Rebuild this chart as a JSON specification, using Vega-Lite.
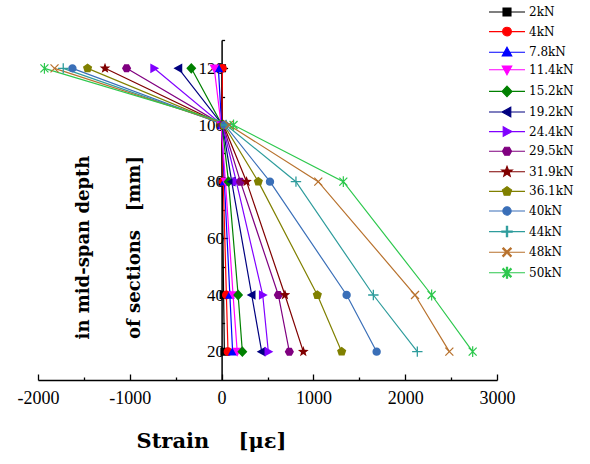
{
  "$schema": "https://vega.github.io/schema/vega-lite/v6.json",
  "width": 459,
  "height": 340,
  "autosize": {"type": "none"},
  "padding": {"left": 38, "top": 40, "right": 93, "bottom": 84},
  "background": "white",
  "config": {"view": {"stroke": null}, "font": "Liberation Serif"},
  "data": {
    "values": [
      {"load": "2kN", "depth": 20, "strain": 30}, {"load": "2kN", "depth": 40, "strain": 22}, {"load": "2kN", "depth": 80, "strain": 8}, {"load": "2kN", "depth": 100, "strain": 0}, {"load": "2kN", "depth": 120, "strain": 5},
      {"load": "4kN", "depth": 20, "strain": 70}, {"load": "4kN", "depth": 40, "strain": 52}, {"load": "4kN", "depth": 80, "strain": 18}, {"load": "4kN", "depth": 100, "strain": 2}, {"load": "4kN", "depth": 120, "strain": 10},
      {"load": "7.8kN", "depth": 20, "strain": 120}, {"load": "7.8kN", "depth": 40, "strain": 90}, {"load": "7.8kN", "depth": 80, "strain": 30}, {"load": "7.8kN", "depth": 100, "strain": 0}, {"load": "7.8kN", "depth": 120, "strain": -35},
      {"load": "11.4kN", "depth": 20, "strain": 170}, {"load": "11.4kN", "depth": 40, "strain": 125}, {"load": "11.4kN", "depth": 80, "strain": 42}, {"load": "11.4kN", "depth": 100, "strain": -5}, {"load": "11.4kN", "depth": 120, "strain": -80},
      {"load": "15.2kN", "depth": 20, "strain": 226}, {"load": "15.2kN", "depth": 40, "strain": 180}, {"load": "15.2kN", "depth": 80, "strain": 75}, {"load": "15.2kN", "depth": 100, "strain": 5}, {"load": "15.2kN", "depth": 120, "strain": -330},
      {"load": "19.2kN", "depth": 20, "strain": 437}, {"load": "19.2kN", "depth": 40, "strain": 328}, {"load": "19.2kN", "depth": 80, "strain": 110}, {"load": "19.2kN", "depth": 100, "strain": 10}, {"load": "19.2kN", "depth": 120, "strain": -470},
      {"load": "24.4kN", "depth": 20, "strain": 509}, {"load": "24.4kN", "depth": 40, "strain": 448}, {"load": "24.4kN", "depth": 80, "strain": 160}, {"load": "24.4kN", "depth": 100, "strain": 10}, {"load": "24.4kN", "depth": 120, "strain": -735},
      {"load": "29.5kN", "depth": 20, "strain": 738}, {"load": "29.5kN", "depth": 40, "strain": 618}, {"load": "29.5kN", "depth": 80, "strain": 205}, {"load": "29.5kN", "depth": 100, "strain": 15}, {"load": "29.5kN", "depth": 120, "strain": -1035},
      {"load": "31.9kN", "depth": 20, "strain": 890}, {"load": "31.9kN", "depth": 40, "strain": 690}, {"load": "31.9kN", "depth": 80, "strain": 272}, {"load": "31.9kN", "depth": 100, "strain": 20}, {"load": "31.9kN", "depth": 120, "strain": -1270},
      {"load": "36.1kN", "depth": 20, "strain": 1308}, {"load": "36.1kN", "depth": 40, "strain": 1043}, {"load": "36.1kN", "depth": 80, "strain": 400}, {"load": "36.1kN", "depth": 100, "strain": 25}, {"load": "36.1kN", "depth": 120, "strain": -1460},
      {"load": "40kN", "depth": 20, "strain": 1689}, {"load": "40kN", "depth": 40, "strain": 1362}, {"load": "40kN", "depth": 80, "strain": 527}, {"load": "40kN", "depth": 100, "strain": 35}, {"load": "40kN", "depth": 120, "strain": -1625},
      {"load": "44kN", "depth": 20, "strain": 2132}, {"load": "44kN", "depth": 40, "strain": 1653}, {"load": "44kN", "depth": 80, "strain": 810}, {"load": "44kN", "depth": 100, "strain": 50}, {"load": "44kN", "depth": 120, "strain": -1725},
      {"load": "48kN", "depth": 20, "strain": 2481}, {"load": "48kN", "depth": 40, "strain": 2107}, {"load": "48kN", "depth": 80, "strain": 1053}, {"load": "48kN", "depth": 100, "strain": 80}, {"load": "48kN", "depth": 120, "strain": -1820},
      {"load": "50kN", "depth": 20, "strain": 2735}, {"load": "50kN", "depth": 40, "strain": 2288}, {"load": "50kN", "depth": 80, "strain": 1326}, {"load": "50kN", "depth": 100, "strain": 130}, {"load": "50kN", "depth": 120, "strain": -1930}
    ]
  },
  "encoding": {
    "x": {
      "field": "strain",
      "type": "quantitative",
      "scale": {"domain": [-2000, 3000], "nice": false, "zero": false},
      "axis": {
        "values": [-2000, -1500, -1000, -500, 0, 500, 1000, 1500, 2000, 2500, 3000],
        "labelExpr": "datum.value % 1000 === 0 ? '' + datum.value : ''",
        "labelFont": "Liberation Serif",
        "labelFontSize": 18,
        "labelColor": "black",
        "labelPadding": 15,
        "labelFlush": false,
        "labelOverlap": false,
        "tickSize": {"condition": {"test": "datum.value % 1000 === 0", "value": -6}, "value": -3},
        "tickColor": "black",
        "tickWidth": 1.3,
        "domainColor": "black",
        "domainWidth": 1.5,
        "grid": false,
        "title": "Strain\u00a0\u00a0\u00a0\u00a0[με]",
        "titleFont": "DejaVu Serif",
        "titleFontWeight": "bold",
        "titleFontSize": 21,
        "titleColor": "black",
        "titleX": 173,
        "titleY": 61,
        "titleAlign": "center",
        "titleBaseline": "middle"
      }
    },
    "y": {
      "field": "depth",
      "type": "quantitative",
      "scale": {"domain": [10, 130], "nice": false, "zero": false},
      "axis": {
        "values": [20, 30, 40, 50, 60, 70, 80, 90, 100, 110, 120, 130],
        "labelExpr": "datum.value % 20 === 0 && datum.value < 130 ? '' + datum.value : ''",
        "offset": -183.6,
        "labelFont": "Liberation Serif",
        "labelFontSize": 17,
        "labelColor": "black",
        "labelPadding": 4,
        "labelOverlap": false,
        "tickSize": {"condition": {"test": "datum.value % 20 === 0", "value": -6}, "value": -3},
        "tickColor": "black",
        "tickWidth": 1.3,
        "domainColor": "black",
        "domainWidth": 1.5,
        "grid": false,
        "title": ["in mid-span depth", "of sections\u00a0\u00a0\u00a0[mm]"],
        "titleFont": "DejaVu Serif",
        "titleFontWeight": "bold",
        "titleFontSize": 18,
        "titleColor": "black",
        "titleAngle": 270,
        "titleLineHeight": 51,
        "titleX": -138,
        "titleY": 207,
        "titleAlign": "center",
        "titleBaseline": "middle"
      }
    },
    "color": {
      "field": "load",
      "type": "nominal",
      "scale": {
        "domain": ["2kN", "4kN", "7.8kN", "11.4kN", "15.2kN", "19.2kN", "24.4kN", "29.5kN", "31.9kN", "36.1kN", "40kN", "44kN", "48kN", "50kN"],
        "range": ["#000000", "#ff0000", "#0000ff", "#ff00ff", "#008000", "#000080", "#8000ff", "#800080", "#800000", "#808000", "#3a6fb8", "#2e9c9c", "#b8722e", "#2dc84d"]
      },
      "legend": {
        "orient": "none",
        "legendX": 463,
        "legendY": -34,
        "title": null,
        "padding": 0,
        "labelFont": "DejaVu Serif",
        "labelFontSize": 12,
        "labelColor": "black",
        "labelOffset": 16,
        "rowPadding": 5.6,
        "symbolSize": 64,
        "symbolStrokeWidth": 1.1
      }
    }
  },
  "layer": [
    {
      "mark": {"type": "line", "strokeWidth": 1.2},
      "encoding": {"order": {"field": "depth", "type": "quantitative"}}
    },
    {
      "mark": {"type": "point", "filled": true, "size": 64, "strokeWidth": 0, "opacity": 1},
      "encoding": {
        "shape": {
          "field": "load",
          "type": "nominal",
          "legend": null,
          "scale": {
            "domain": ["2kN", "4kN", "7.8kN", "11.4kN", "15.2kN", "19.2kN", "24.4kN", "29.5kN", "31.9kN", "36.1kN", "40kN", "44kN", "48kN", "50kN"],
            "range": [
              "M-4.5,0H4.5M-1,-1H1V1H-1Z",
              "M-4.5,0H4.5M-1.1,0A1.1,1.1,0,1,1,1.1,0A1.1,1.1,0,1,1,-1.1,0Z",
              "M-4.5,0H4.5M0,-1.25L1.2,0.95H-1.2Z",
              "M-4.5,0H4.5M0,1.25L1.2,-0.95H-1.2Z",
              "M-4.5,0H4.5M0,-1.35L1.25,0L0,1.35L-1.25,0Z",
              "M-4.5,0H4.5M-1.25,0L0.95,-1.2V1.2Z",
              "M-4.5,0H4.5M1.25,0L-0.95,-1.2V1.2Z",
              "M-4.5,0H4.5M1.15,0L0.58,1H-0.58L-1.15,0L-0.58,-1H0.58Z",
              "M-4.5,0H4.5M0,-1.4L0.35,-0.48L1.34,-0.43L0.56,0.18L0.82,1.13L0,0.58L-0.82,1.13L-0.56,0.18L-1.34,-0.43L-0.35,-0.48Z",
              "M-4.5,0H4.5M0,-1.2L1.15,-0.37L0.71,0.97H-0.71L-1.15,-0.37Z",
              "M-4.5,0H4.5M-1.05,0A1.05,1.05,0,1,1,1.05,0A1.05,1.05,0,1,1,-1.05,0Z",
              "M-4.5,0H4.5M-0.16,-1.3H0.16V-0.16H1.3V0.16H0.16V1.3H-0.16V0.16H-1.3V-0.16H-0.16Z",
              "M-4.5,0H4.5M-0.89,-1.11L1.11,0.89L0.89,1.11L-1.11,-0.89ZM-1.11,0.89L0.89,-1.11L1.11,-0.89L-0.89,1.11Z",
              "M-4.5,0H4.5M-0.89,-1.11L1.11,0.89L0.89,1.11L-1.11,-0.89ZM-1.11,0.89L0.89,-1.11L1.11,-0.89L-0.89,1.11ZM-0.15,-1.35H0.15V1.35H-0.15Z"
            ]
          }
        },
        "stroke": {
          "field": "load",
          "type": "nominal",
          "legend": null,
          "scale": {
            "domain": ["2kN", "4kN", "7.8kN", "11.4kN", "15.2kN", "19.2kN", "24.4kN", "29.5kN", "31.9kN", "36.1kN", "40kN", "44kN", "48kN", "50kN"],
            "range": ["#000000", "#ff0000", "#0000ff", "#ff00ff", "#008000", "#000080", "#8000ff", "#800080", "#800000", "#808000", "#3a6fb8", "#2e9c9c", "#b8722e", "#2dc84d"]
          }
        }
      }
    }
  ]
}
